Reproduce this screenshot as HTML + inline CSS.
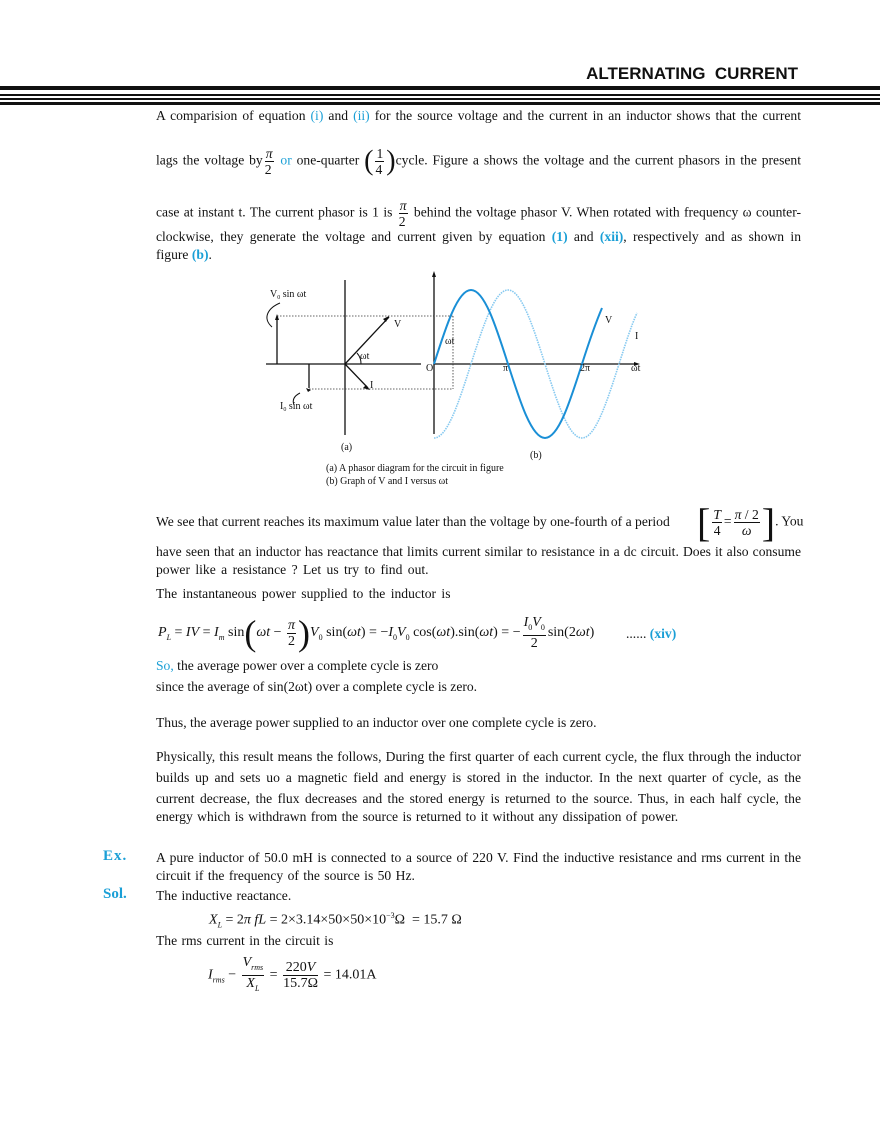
<!DOCTYPE html>
<html><head><meta charset="utf-8"><style>
body{margin:0;background:#fff;}
#p{position:relative;width:880px;height:1139px;overflow:hidden;font-family:"Liberation Serif",serif;color:#111;font-size:13.6px;}
.l{position:absolute;left:156px;width:645px;line-height:18px;white-space:nowrap;}
.j{text-align:justify;text-align-last:justify;}
.b{color:#1a9fd6;}
.bb{color:#1a9fd6;font-weight:bold;}
.fr{display:inline-block;vertical-align:middle;text-align:center;line-height:15px;margin:0 2px;}
.fr span{display:block;}
.fr .n{border-bottom:1px solid #111;padding:0 1px;}
.a{position:absolute;white-space:nowrap;}
i{font-style:italic;}
</style></head><body><div id="p">
<div class="a" style="right:82px;top:64px;font-family:'Liberation Sans',sans-serif;font-weight:bold;font-size:17px;">ALTERNATING&nbsp; CURRENT</div>
<div class="a" style="left:0;top:86px;width:880px;height:4px;background:#111"></div>
<div class="a" style="left:0;top:94px;width:880px;height:1.5px;background:#111"></div>
<div class="a" style="left:0;top:98px;width:880px;height:1.5px;background:#111"></div>
<div class="a" style="left:0;top:102px;width:880px;height:3px;background:#111"></div>

<div class="l j" style="top:107px">A comparision of equation <span class="b">(i)</span> and <span class="b">(ii)</span> for the source voltage and the current in an inductor shows that the current</div>
<div class="l j" style="top:146px">lags the voltage by<span class="fr"><span class="n"><i>π</i></span><span>2</span></span> <span class="b">or</span> one-quarter <span style="font-size:28px;vertical-align:middle;font-weight:100">(</span><span class="fr"><span class="n">1</span><span>4</span></span><span style="font-size:28px;vertical-align:middle;font-weight:100">)</span>cycle. Figure a shows the voltage and the current phasors in the present</div>
<div class="l j" style="top:198px">case at instant t. The current phasor is 1 is <span class="fr"><span class="n"><i>π</i></span><span>2</span></span> behind the voltage phasor V. When rotated with frequency ω counter-</div>
<div class="l j" style="top:228px">clockwise, they generate the voltage and current given by equation <span class="bb">(1)</span> and <span class="bb">(xii)</span>, respectively and as shown in</div>
<div class="l" style="top:246px">figure <span class="bb">(b)</span>.</div>

<svg class="a" style="left:0;top:0" width="880" height="500" font-family="Liberation Serif" font-size="10" fill="#111">
<g stroke="#111" stroke-width="1.3" fill="none">
<line x1="345" y1="280" x2="345" y2="435"/>
<line x1="266" y1="364" x2="421" y2="364"/>
<line x1="345" y1="364" x2="389" y2="317"/>
<line x1="345" y1="364" x2="368" y2="388"/>
<line x1="277" y1="364" x2="277" y2="318"/>
<line x1="309" y1="364" x2="309" y2="388"/>
<line x1="434" y1="275" x2="434" y2="434"/>
<line x1="434" y1="364" x2="637" y2="364"/>
<path d="M280 303 C268 308 262 318 272 327" stroke-width="1"/>
<path d="M300 393 C294 396 292 400 294 405" stroke-width="1"/>
<path d="M357 353 A16 16 0 0 1 361 364" stroke-width="1"/>
</g>
<g stroke="#333" stroke-width="0.8" stroke-dasharray="1.5 1.5" fill="none">
<line x1="277" y1="316" x2="453" y2="316"/>
<line x1="309" y1="389" x2="453" y2="389"/>
<line x1="453" y1="316" x2="453" y2="389"/>
</g>
<g fill="#111">
<polygon points="389,316 383,319 386,322"/>
<polygon points="370,390 363,388 366,385"/>
<polygon points="277,314 275,320 279,320"/>
<polygon points="311,390 306,388 308,392"/>
<polygon points="434,271 432,277 436,277"/>
<polygon points="640,364 634,362 634,366"/>
</g>
<path d="M434,438 c13.4,0 24.94,-36.1 37,-74 c12.06,-37.9 23.6,-74 37,-74 c13.4,0 24.94,36.1 37,74 c12.06,37.9 23.6,74 37,74 c13.4,0 24.94,-36.1 37,-74 c6.5,-20 12,-38 18,-51" stroke="#86c9f0" stroke-width="1.6" stroke-dasharray="1.5 1" fill="none"/>
<path d="M434,364 c12.06,-37.9 23.6,-74 37,-74 c13.4,0 24.94,36.1 37,74 c12.06,37.9 23.6,74 37,74 c13.4,0 24.94,-36.1 37,-74 c7,-22 14,-42 20,-56" stroke="#1a8fd6" stroke-width="2" fill="none"/>
<text x="270" y="297">V<tspan font-size="6" dy="2">0</tspan><tspan dy="-2"> sin ωt</tspan></text>
<text x="280" y="409">I<tspan font-size="6" dy="2">0</tspan><tspan dy="-2"> sin ωt</tspan></text>
<text x="394" y="327">V</text>
<text x="370" y="388">I</text>
<text x="360" y="359">ωt</text>
<text x="445" y="344">ωt</text>
<text x="426" y="371">O</text>
<text x="503" y="371">π</text>
<text x="580" y="371">2π</text>
<text x="631" y="371">ωt</text>
<text x="605" y="323">V</text>
<text x="635" y="339">I</text>
<text x="341" y="450">(a)</text>
<text x="530" y="458">(b)</text>
<text x="326" y="471">(a) A phasor diagram for the circuit in figure</text>
<text x="326" y="484">(b) Graph of V and I versus ωt</text>
</svg>

<div class="l" style="top:513px">We see that current reaches its maximum value later than the voltage by one-fourth of a period</div>
<div class="a" style="left:697px;top:499px;font-size:13.6px"><span style="font-size:40px;font-weight:100;vertical-align:middle">[</span><span class="fr"><span class="n"><i>T</i></span><span>4</span></span>=<span class="fr"><span class="n"><i>π</i> / 2</span><span><i>ω</i></span></span><span style="font-size:40px;font-weight:100;vertical-align:middle">]</span>. You</div>
<div class="l j" style="top:543px">have seen that an inductor has reactance that limits current similar to resistance in a dc circuit. Does it also consume</div>
<div class="l" style="top:561px;word-spacing:2px">power like a resistance ? Let us try to find out.</div>
<div class="l" style="top:585px;word-spacing:2px">The instantaneous power supplied to the inductor is</div>
<div class="a" style="left:158px;top:612px;font-size:14px"><i>P<sub style="font-size:8px">L</sub></i> = <i>IV</i> = <i>I<sub style="font-size:8px">m</sub></i> sin<span style="font-size:36px;font-weight:100;vertical-align:middle">(</span><i>ωt</i> − <span class="fr"><span class="n"><i>π</i></span><span>2</span></span><span style="font-size:36px;font-weight:100;vertical-align:middle">)</span><i>V</i><sub style="font-size:8px">0</sub> sin(<i>ωt</i>) = −<i>I</i><sub style="font-size:8px">0</sub><i>V</i><sub style="font-size:8px">0</sub> cos(<i>ωt</i>).sin(<i>ωt</i>) = −<span class="fr"><span class="n"><i>I</i><sub style="font-size:8px">0</sub><i>V</i><sub style="font-size:8px">0</sub></span><span>2</span></span>sin(2<i>ωt</i>)</div>
<div class="a" style="left:626px;top:626px">...... <span class="bb">(xiv)</span></div>
<div class="l" style="top:657px"><span class="b">So,</span> the average power over a complete cycle is zero</div>
<div class="l" style="top:678px">since the average of sin(2ωt) over a complete cycle is zero.</div>
<div class="l" style="top:714px">Thus, the average power supplied to an inductor over one complete cycle is zero.</div>
<div class="l j" style="top:748px">Physically, this result means the follows, During the first quarter of each current cycle, the flux through the inductor</div>
<div class="l j" style="top:769px">builds up and sets uo a magnetic field and energy is stored in the inductor. In the next quarter of cycle, as the</div>
<div class="l j" style="top:790px">current decrease, the flux decreases and the stored energy is returned to the source. Thus, in each half cycle, the</div>
<div class="l" style="top:808px;word-spacing:1px">energy which is withdrawn from the source is returned to it without any dissipation of power.</div>
<div class="a bb" style="left:103px;top:848px;font-size:15px;letter-spacing:1px">Ex.</div>
<div class="l j" style="top:849px">A pure inductor of 50.0 mH is connected to a source of 220 V. Find the inductive resistance and rms current in the</div>
<div class="l" style="top:867px;word-spacing:1px">circuit if the frequency of the source is 50 Hz.</div>
<div class="a bb" style="left:103px;top:886px;font-size:15px">Sol.</div>
<div class="l" style="top:887px;word-spacing:1px">The inductive reactance.</div>
<div class="a" style="left:209px;top:911px;font-size:14px"><i>X</i><sub style="font-size:8px"><i>L</i></sub> = 2<i>π fL</i> = 2×3.14×50×50×10<sup style="font-size:8px">−3</sup>Ω &nbsp;= 15.7 Ω</div>
<div class="l" style="top:932px;word-spacing:1px">The rms current in the circuit is</div>
<div class="a" style="left:208px;top:955px;font-size:14px"><i>I</i><sub style="font-size:8px"><i>rms</i></sub> − <span class="fr"><span class="n"><i>V</i><sub style="font-size:8px"><i>rms</i></sub></span><span><i>X</i><sub style="font-size:8px"><i>L</i></sub></span></span> = <span class="fr"><span class="n">220<i>V</i></span><span>15.7Ω</span></span> = 14.01A</div>
</div></body></html>
